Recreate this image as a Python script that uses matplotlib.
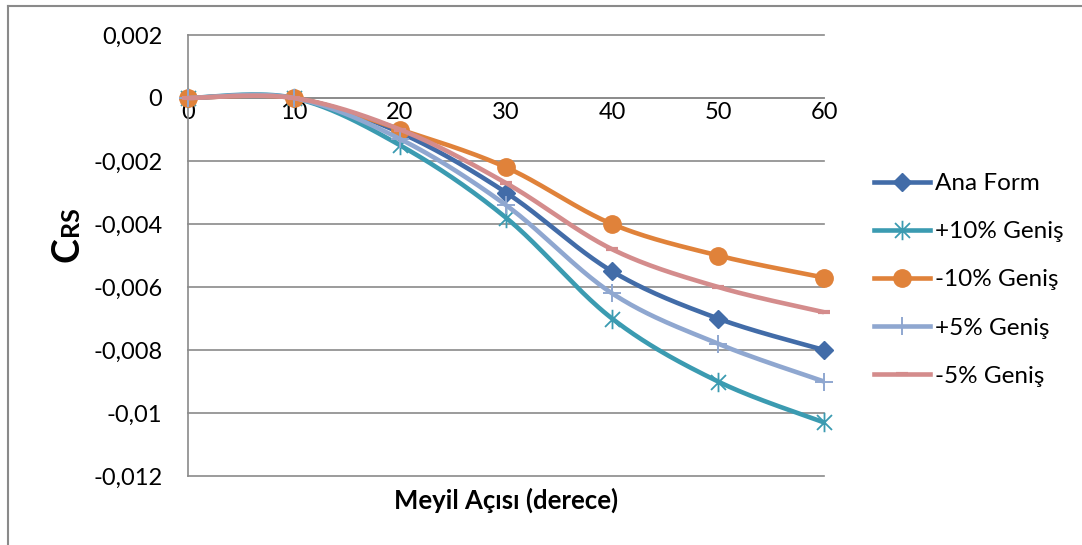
import numpy as np
import matplotlib
matplotlib.use("Agg")
import matplotlib.pyplot as plt
from matplotlib.path import Path
from matplotlib.lines import Line2D

plt.rcParams['font.family'] = ['Lato', 'DejaVu Sans']

# ---- data ----
angles = [0, 10, 20, 30, 40, 50, 60]
ana_form = [0, 0, -0.0011, -0.0030, -0.0055, -0.0070, -0.0080]
plus10 = [0, 0, -0.0015, -0.0038, -0.0070, -0.0090, -0.0103]
minus10 = [0, 0, -0.0010, -0.0022, -0.0040, -0.0050, -0.0057]
plus5 = [0, 0, -0.0013, -0.0034, -0.0062, -0.0078, -0.0090]
minus5 = [0, 0, -0.0010, -0.0027, -0.0048, -0.0060, -0.0068]
series_names = ['Ana Form', '+10% Geniş', '-10% Geniş', '+5% Geniş', '-5% Geniş']

y_ticks = [0.002, 0, -0.002, -0.004, -0.006, -0.008, -0.010, -0.012]
y_tick_labels = ['0,002', '0', '-0,002', '-0,004', '-0,006', '-0,008', '-0,01', '-0,012']
x_ticks = [0, 10, 20, 30, 40, 50, 60]
x_tick_labels = ['0', '10', '20', '30', '40', '50', '60']


def smooth(xs, ys, n=40):
    """Cubic Bezier smoothing through every point (spreadsheet-style)."""
    p = np.column_stack([xs, ys]).astype(float)
    out = [p[0]]
    m = len(p)
    for i in range(m - 1):
        p0 = p[i - 1] if i > 0 else p[i]
        p1, p2 = p[i], p[i + 1]
        p3 = p[i + 2] if i + 2 < m else p[i + 1]
        c1 = p1 + (p2 - p0) / 6.0
        c2 = p2 - (p3 - p1) / 6.0
        t = np.linspace(0, 1, n)[1:, None]
        seg = ((1 - t) ** 3) * p1 + 3 * ((1 - t) ** 2) * t * c1 + 3 * (1 - t) * t ** 2 * c2 + t ** 3 * p2
        out.extend(seg)
    out = np.array(out)
    return out[:, 0], out[:, 1]


star = Path([(-1, -1), (1, 1), (-1, 1), (1, -1), (0, -1.3), (0, 1.3)],
            [Path.MOVETO, Path.LINETO, Path.MOVETO, Path.LINETO, Path.MOVETO, Path.LINETO])

styles = [
    dict(color='#426ca8', marker='D', ms=9.5, mfc='#426ca8', mec='#426ca8', mew=1),
    dict(color='#3b9bb1', marker=star, ms=14, mfc='none', mec='#3b9bb1', mew=1.3),
    dict(color='#e0823a', marker='o', ms=12.5, mfc='#e0823a', mec='#e0823a', mew=1),
    dict(color='#8fa7d0', marker='+', ms=13, mfc='#8fa7d0', mec='#8fa7d0', mew=1.4),
    dict(color='#d48c8c', marker='_', ms=9, mfc='#d48c8c', mec='#d48c8c', mew=3),
]

fig = plt.figure(figsize=(10.82, 5.45), dpi=100)
ax = fig.add_axes([188 / 1082, 1 - 476 / 545, (824 - 188) / 1082, (476 - 35) / 545])

grid_c = '#8a8a8a'
for yv in y_ticks:
    ax.axhline(yv, color=grid_c, lw=1.2, clip_on=False, zorder=1)

handles = []
for vals, st, name in zip([ana_form, plus10, minus10, plus5, minus5], styles, series_names):
    sx, sy = smooth(angles, vals)
    ax.plot(sx, sy, color=st['color'], lw=3.3, solid_capstyle='butt', zorder=3, clip_on=False)
    ax.plot(angles, vals, ls='none', marker=st['marker'], ms=st['ms'], mfc=st['mfc'],
            mec=st['mec'], mew=st['mew'], zorder=3, clip_on=False)
    handles.append(Line2D([], [], color=st['color'], lw=3.3, marker=st['marker'], ms=st['ms'],
                          mfc=st['mfc'], mec=st['mec'], mew=st['mew']))

ax.set_xlim(0, 60)
ax.set_ylim(-0.012, 0.002)
ax.set_yticks(y_ticks)
ax.set_yticklabels(y_tick_labels)
ax.set_xticks(x_ticks)
ax.set_xticklabels(x_tick_labels)
ax.tick_params(axis='y', length=0, pad=18.5, labelsize=17, labelcolor='black')
ax.tick_params(axis='x', length=0, pad=3, labelsize=17, labelcolor='black')

for s in ['top', 'right']:
    ax.spines[s].set_visible(False)
ax.spines['bottom'].set_position(('data', 0))
for s in ['bottom', 'left']:
    ax.spines[s].set_color(grid_c)
    ax.spines[s].set_linewidth(1.2)
    ax.spines[s].set_zorder(2)

fig.text(506 / 1082, 1 - 500 / 545, 'Meyil Açısı (derece)', ha='center', va='center',
         fontsize=18.5, fontweight='bold')

# axis title: large "C" followed by smaller "RS" on the same baseline
c_txt = fig.text(78 / 1082, 1 - 262 / 545, 'C', rotation=90, rotation_mode='anchor',
                 ha='left', va='baseline', fontsize=27, fontweight='bold')
renderer = fig.canvas.get_renderer()
bb = c_txt.get_window_extent(renderer)
fig.text(78 / 1082, (bb.y1 + 1) / fig.bbox.height, 'RS', rotation=90, rotation_mode='anchor',
         ha='left', va='baseline', fontsize=18, fontweight='bold')

leg = fig.legend(handles, series_names, loc='upper left',
                 bbox_to_anchor=(874 / 1082, 1 - 173 / 545), frameon=False,
                 fontsize=17.5, handlelength=2.3, handletextpad=0.2, labelspacing=1.12,
                 borderaxespad=0, borderpad=0)

# outer chart-area border
fig.add_artist(Line2D([8 / 1082, 8 / 1082], [0, 1 - 6 / 545], color='#8a8a8a', lw=1.5))
fig.add_artist(Line2D([8 / 1082, 1], [1 - 6 / 545, 1 - 6 / 545], color='#8a8a8a', lw=1.5))

fig.savefig('out.png', dpi=100)
